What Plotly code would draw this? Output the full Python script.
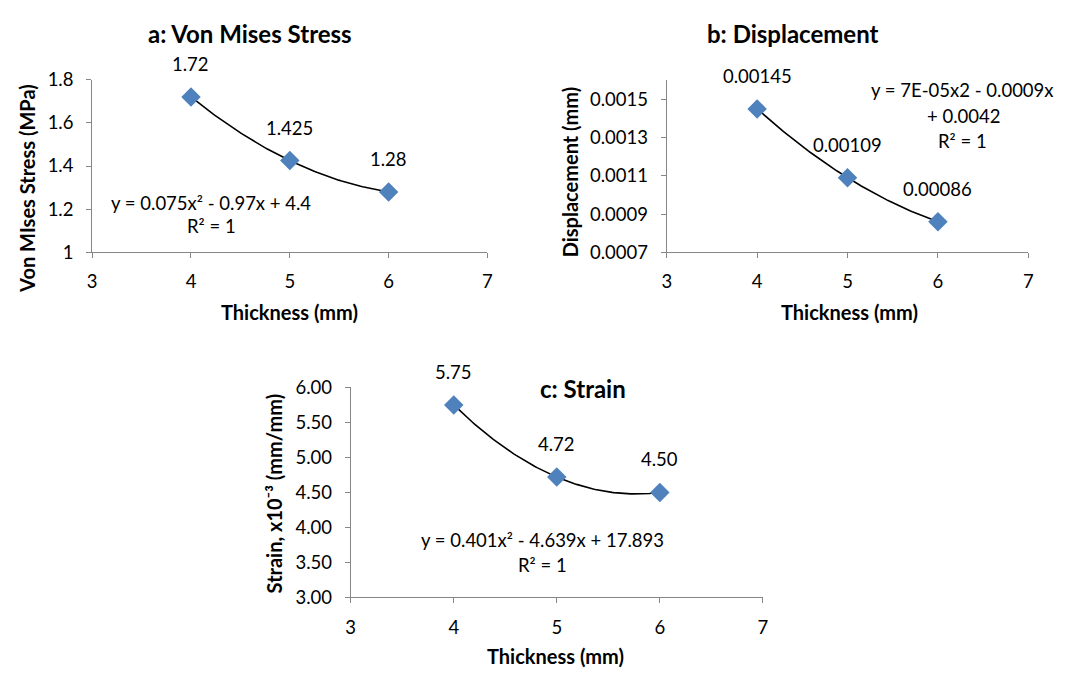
import numpy as np
import plotly.graph_objects as go

W, H = 1067, 680

thickness = [4, 5, 6]
stress = [1.72, 1.425, 1.28]
displacement = [0.00145, 0.00109, 0.00086]
strain = [5.75, 4.72, 4.50]

stress_labels = ["1.72", "1.425", "1.28"]
disp_labels = ["0.00145", "0.00109", "0.00086"]
strain_labels = ["5.75", "4.72", "4.50"]

x_ticks = [3, 4, 5, 6, 7]
stress_ticks = [1, 1.2, 1.4, 1.6, 1.8]
disp_ticks = [0.0007, 0.0009, 0.0011, 0.0013, 0.0015]
strain_ticks = [3.0, 3.5, 4.0, 4.5, 5.0, 5.5, 6.0]

FONT = "Lato, 'Open Sans', sans-serif"
BLUE = "#4F81BD"
AXIS = "#868686"
TXT = 18.5

def px_x(p):
    return p / W

def px_y(p):
    return 1 - p / H

fig = go.Figure()

panels = [
    dict(y=stress, labels=stress_labels, xa="x", ya="y"),
    dict(y=displacement, labels=disp_labels, xa="x2", ya="y2"),
    dict(y=strain, labels=strain_labels, xa="x3", ya="y3"),
]

for p in panels:
    coef = np.polyfit(thickness, p["y"], 2)
    xs = np.linspace(min(thickness), max(thickness), 100)
    fig.add_trace(go.Scatter(x=xs, y=np.polyval(coef, xs), mode="lines",
                             line=dict(color="black", width=1.6),
                             xaxis=p["xa"], yaxis=p["ya"], showlegend=False,
                             hoverinfo="skip"))
    fig.add_trace(go.Scatter(x=thickness, y=p["y"], mode="markers",
                             marker=dict(symbol="diamond", size=15, color=BLUE,
                                         line=dict(width=0)),
                             xaxis=p["xa"], yaxis=p["ya"], showlegend=False))
    for xv, yv, lab in zip(thickness, p["y"], p["labels"]):
        fig.add_annotation(x=xv, y=yv, xref=p["xa"], yref=p["ya"], text=lab,
                           showarrow=False, yshift=33,
                           font=dict(family=FONT, size=TXT, color="#000"))

def xaxis_cfg(dom_px, anchor):
    return dict(domain=[px_x(dom_px[0]), px_x(dom_px[1])], range=[3, 7],
                tickvals=x_ticks, ticks="outside", ticklen=5, tickcolor=AXIS,
                showline=True, linecolor=AXIS, linewidth=1, showgrid=False,
                zeroline=False, anchor=anchor, fixedrange=True,
                ticklabelstandoff=8,
                tickfont=dict(family=FONT, size=TXT, color="#000"))

def yaxis_cfg(dom_px, rng, ticks, fmt, anchor):
    return dict(domain=[px_y(dom_px[1]), px_y(dom_px[0])], range=rng,
                tickvals=ticks, tickformat=fmt, ticks="outside", ticklen=5,
                tickcolor=AXIS, showline=True, linecolor=AXIS, linewidth=1,
                showgrid=False, zeroline=False, anchor=anchor, fixedrange=True,
                ticklabelstandoff=9,
                tickfont=dict(family=FONT, size=TXT, color="#000"))

fig.update_layout(
    width=W, height=H,
    margin=dict(l=0, r=0, t=0, b=0),
    paper_bgcolor="white", plot_bgcolor="white",
    xaxis=xaxis_cfg((88, 487), "y"),
    yaxis=yaxis_cfg((70, 248.3), [1, 1.8], stress_ticks, "", "x"),
    xaxis2=xaxis_cfg((668, 1033), "y2"),
    yaxis2=yaxis_cfg((70.5, 248.3), [0.0007, 0.0016], disp_ticks, ".4f", "x2"),
    xaxis3=xaxis_cfg((349, 765), "y3"),
    yaxis3=yaxis_cfg((388, 605), [3, 6], strain_ticks, ".2f", "x3"),
)

def text(xp, yp, s, size=TXT, bold=False, angle=0):
    if bold:
        s = "<b>" + s + "</b>"
    fig.add_annotation(x=px_x(xp), y=px_y(yp), xref="paper", yref="paper",
                       text=s, showarrow=False, textangle=angle,
                       xanchor="center", yanchor="middle",
                       font=dict(family=FONT, size=size, color="#000"))

# chart titles
text(247, 22, "a: Von Mises Stress", size=24, bold=True)
text(795, 22, "b: Displacement", size=24, bold=True)
text(583, 389, "c: Strain", size=24, bold=True)

# x-axis titles
text(287, 310, "Thickness (mm)", size=20, bold=True)
text(852, 310, "Thickness (mm)", size=20, bold=True)
text(556, 666, "Thickness (mm)", size=20, bold=True)

# y-axis titles
text(22, 182, "Von MIses Stress (MPa)", size=20, bold=True, angle=-90)
text(570, 166, "Displacement (mm)", size=20, bold=True, angle=-90)
text(271, 497, "Strain, x10⁻³ (mm/mm)", size=20, bold=True, angle=-90)

# trendline equations
text(208, 197, "y = 0.075x² - 0.97x + 4.4")
text(208, 221, "R² = 1")
text(967, 81, "y = 7E-05x2 - 0.0009x")
text(968, 107, "+ 0.0042")
text(967, 133, "R² = 1")
text(543, 546, "y = 0.401x² - 4.639x + 17.893")
text(543, 572, "R² = 1")

fig.write_html("out.html")
